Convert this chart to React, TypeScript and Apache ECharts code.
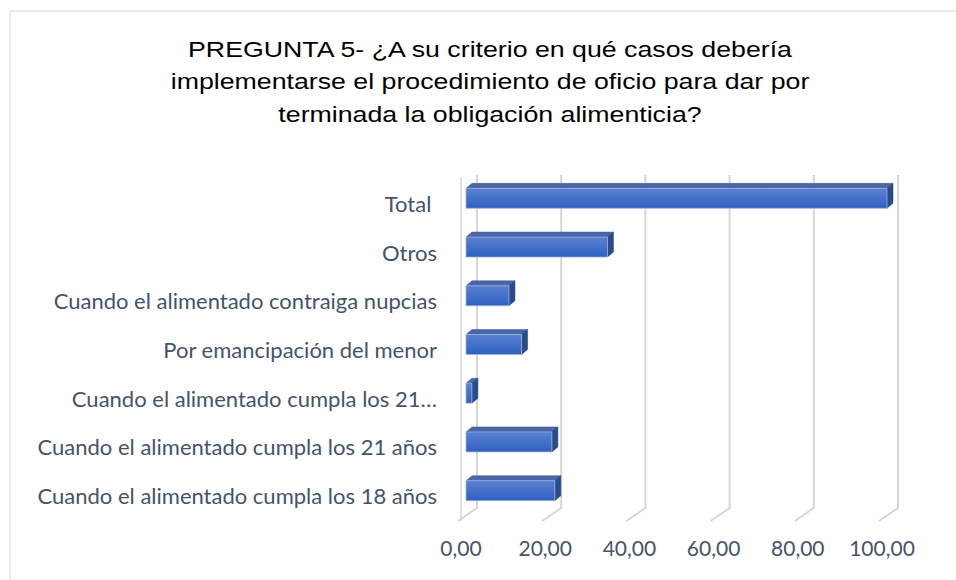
import React, { useEffect, useRef } from "react";
import * as echarts from "echarts";

const titleLines = [
  "PREGUNTA 5- ¿A su criterio en qué casos debería",
  "implementarse el procedimiento de oficio para dar por",
  "terminada la obligación alimenticia?",
];

// bottom-to-top order
const categories = [
  "Cuando el alimentado cumpla los 18 años",
  "Cuando el alimentado cumpla los 21 años",
  "Cuando el alimentado cumpla los 21…",
  "Por emancipación del menor",
  "Cuando el alimentado contraiga nupcias",
  "Otros",
  "Total\u00a0",
];
const values = [21.1, 20.4, 1.4, 13.2, 10.2, 33.6, 100];
const tickValues = [0, 20, 40, 60, 80, 100];

export default function App() {
  const ref = useRef<HTMLDivElement>(null);
  useEffect(() => {
    if (!ref.current) return;
    const chart = echarts.init(ref.current, null, { renderer: "svg" });
    const labelColor = "#44546a";
    chart.setOption({
      animation: false,
      backgroundColor: "#ffffff",
      graphic: [
        {
          type: "rect",
          shape: { x: 10, y: 11, width: 960, height: 600 },
          style: { fill: "none", stroke: "#d9d9d9", lineWidth: 1 },
          silent: true,
          z: -10,
        },
        {
          type: "text",
          x: 490,
          y: 33,
          scaleX: 1.215,
          scaleY: 1,
          silent: true,
          style: {
            text: titleLines.join("\n"),
            align: "center",
            verticalAlign: "top",
            fontFamily: "Liberation Sans",
            fontSize: 22,
            lineHeight: 32.5,
            fill: "#000000",
          },
        },
      ],
      grid: { left: 461, right: 74, top: 179, bottom: 60, containLabel: false },
      xAxis: {
        type: "value",
        min: 0,
        max: 100,
        interval: 20,
        splitLine: { show: false },
        axisLine: { show: false },
        axisTick: { show: false },
        axisLabel: {
          fontFamily: "Lato",
          fontSize: 21,
          color: labelColor,
          margin: 17,
          formatter: (v: number) => v.toFixed(2).replace(".", ","),
        },
      },
      yAxis: {
        type: "category",
        data: categories,
        axisLine: { show: false },
        axisTick: { show: false },
        splitLine: { show: false },
        axisLabel: { fontFamily: "Lato", fontSize: 22, color: labelColor, margin: 24 },
      },
      series: [
        {
          type: "custom",
          z: 1,
          silent: true,
          data: tickValues.map((v) => [v, 0]),
          encode: { x: 0, y: 1 },
          renderItem: (params: any, api: any) => {
            const cs = params.coordSys;
            const v = api.value(0);
            const x = api.coord([v, 0])[0];
            const bottom = cs.y + cs.height;
            const children: any[] = [
              {
                type: "polyline",
                shape: {
                  points: [
                    [x - 3, bottom + 1],
                    [x + 16, bottom - 12],
                    [x + 16, cs.y - 4],
                  ],
                },
                style: { stroke: "#d4d6da", lineWidth: 2, fill: "none" },
              },
            ];
            if (v === 0) {
              children.push({
                type: "line",
                shape: { x1: x, y1: cs.y - 2, x2: x, y2: bottom + 1 },
                style: { stroke: "#d4d6da", lineWidth: 1.5 },
              });
            }
            return { type: "group", children };
          },
        },
        {
          type: "custom",
          z: 2,
          silent: true,
          data: values.map((v, i) => [v, i]),
          encode: { x: 0, y: 1 },
          renderItem: (params: any, api: any) => {
            const v = api.value(0);
            const idx = api.value(1);
            const start = api.coord([0, idx]);
            const end = api.coord([v, idx]);
            const bandH = api.size([0, 1])[1];
            const h = bandH * 0.41;
            const ox = 5, oy = -5, dx = 6, dy = -5;
            const x0 = start[0] + ox;
            const x1 = end[0] + ox;
            const yc = start[1] + oy;
            const yt = yc - h / 2;
            const yb = yc + h / 2;
            return {
              type: "group",
              children: [
                {
                  type: "polygon",
                  shape: { points: [[x0, yt], [x0 + dx, yt + dy], [x1 + dx, yt + dy], [x1, yt]] },
                  style: { fill: "#4a66a6", stroke: "#3e5a98", lineWidth: 0.5 },
                },
                {
                  type: "polygon",
                  shape: { points: [[x1, yt], [x1 + dx, yt + dy], [x1 + dx, yb + dy], [x1, yb]] },
                  style: { fill: "#2b4a8c", stroke: "#233f7a", lineWidth: 0.5 },
                },
                {
                  type: "rect",
                  shape: { x: x0, y: yt, width: Math.max(x1 - x0, 0.5), height: h },
                  style: {
                    fill: new echarts.graphic.LinearGradient(0, 0, 0, 1, [
                      { offset: 0, color: "#5a81d2" },
                      { offset: 1, color: "#2f60c0" },
                    ]),
                    stroke: "#9fb3dc",
                    lineWidth: 0.8,
                  },
                },
              ],
            };
          },
        },
      ],
    });
    return () => chart.dispose();
  }, []);
  return (
    <div
      ref={ref}
      style={{ position: "absolute", left: 0, top: 0, width: 956, height: 580 }}
    />
  );
}
